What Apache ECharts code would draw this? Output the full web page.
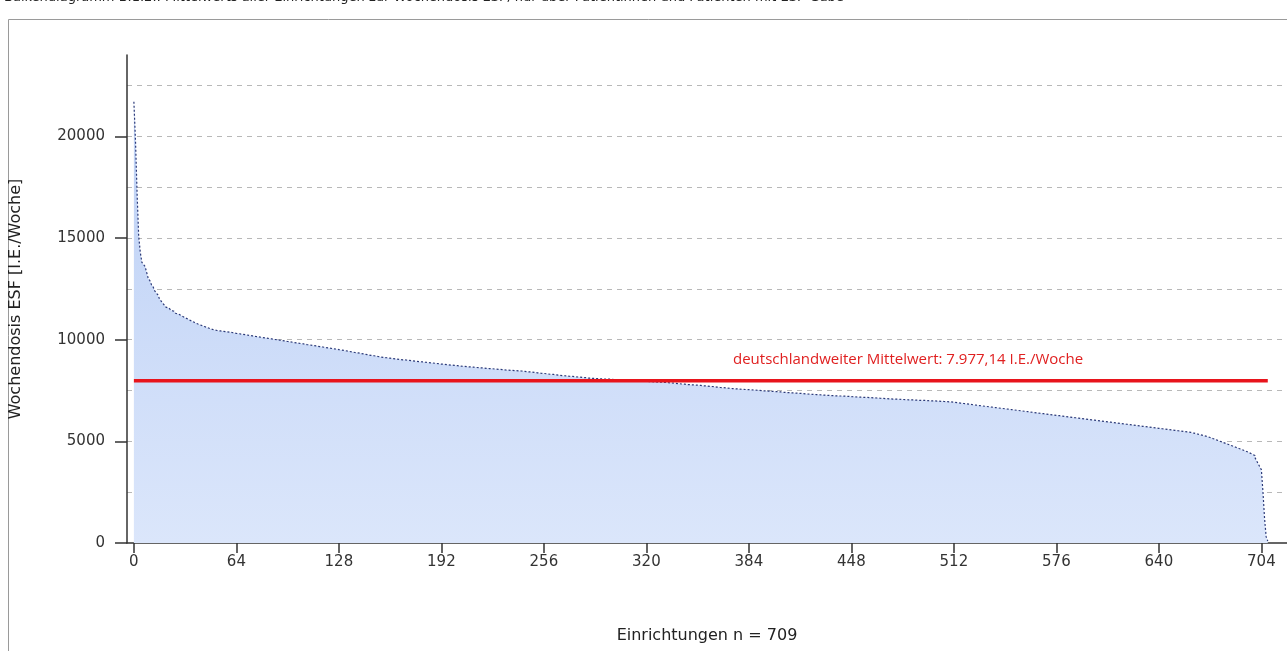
<!DOCTYPE html>
<html><head><meta charset="utf-8">
<script src="https://cdn.jsdelivr.net/npm/echarts@6/dist/echarts.min.js"></script>
<style>html,body{margin:0;padding:0;background:#fff}#c{width:1287px;height:651px}</style>
</head><body><div id="c"></div>
<script>
const titleText = 'Balkendiagramm B.1.2.: Mittelwerts aller Einrichtungen zur Wochendosis ESF, nur über Patientinnen und Patienten mit ESF-Gabe';
const yAxisName = 'Wochendosis ESF [I.E./Woche]';
const xAxisName = 'Einrichtungen n = 709';
const meanLabel = 'deutschlandweiter Mittelwert: 7.977,14 I.E./Woche';
const meanValue = 7977.14;
const xTicks = [0,64,128,192,256,320,384,448,512,576,640,704];
const yTicks = [0,5000,10000,15000,20000];
const values = [
21700,19800,17200,15100,14300,13800,13700,13600,13300,13000,
12900,12700,12600,12400,12300,12200,12000,11900,11800,11700,
11600,11550,11500,11450,11400,11350,11300,11250,11200,11160,
11120,11080,11040,11000,10960,10920,10880,10840,10800,10770,
10740,10710,10680,10650,10620,10590,10560,10530,10500,10480,
10460,10450,10440,10430,10420,10410,10400,10390,10380,10370,
10350,10340,10320,10310,10300,10290,10270,10260,10250,10240,
10220,10210,10200,10190,10170,10160,10150,10140,10120,10110,
10100,10090,10070,10060,10050,10040,10020,10010,10000,9990,
9970,9960,9950,9940,9920,9910,9900,9890,9870,9860,
9850,9840,9820,9810,9800,9790,9770,9760,9750,9740,
9720,9710,9700,9690,9670,9660,9650,9640,9620,9610,
9600,9590,9570,9560,9550,9540,9520,9510,9500,9490,
9470,9460,9440,9430,9420,9400,9390,9370,9360,9350,
9330,9320,9300,9290,9280,9260,9250,9230,9220,9210,
9190,9180,9160,9150,9140,9130,9120,9110,9100,9090,
9080,9070,9060,9050,9040,9030,9020,9010,9010,9000,
8990,8980,8970,8960,8950,8940,8930,8920,8910,8910,
8900,8890,8880,8870,8860,8860,8850,8840,8830,8820,
8810,8800,8800,8790,8780,8770,8760,8750,8740,8740,
8730,8720,8710,8700,8690,8690,8680,8670,8670,8660,
8650,8650,8640,8630,8630,8620,8610,8610,8600,8590,
8590,8580,8570,8570,8560,8550,8550,8540,8530,8530,
8520,8510,8510,8500,8490,8490,8480,8480,8470,8470,
8460,8460,8450,8440,8430,8420,8420,8410,8400,8390,
8380,8370,8360,8350,8350,8340,8330,8320,8310,8300,
8290,8290,8280,8270,8260,8250,8240,8230,8230,8220,
8210,8200,8200,8190,8180,8170,8170,8160,8150,8140,
8140,8130,8120,8110,8100,8100,8090,8090,8080,8080,
8070,8070,8070,8060,8060,8060,8060,8055,8050,8040,
8040,8030,8030,8020,8020,8010,8010,8000,8000,7990,
7990,7980,7980,7970,7970,7960,7960,7960,7955,7950,
7950,7940,7940,7930,7930,7920,7920,7910,7910,7905,
7905,7900,7890,7880,7870,7870,7860,7850,7840,7840,
7830,7820,7810,7810,7800,7790,7790,7780,7770,7770,
7760,7760,7760,7750,7740,7730,7730,7720,7710,7700,
7690,7690,7680,7670,7660,7650,7650,7640,7630,7620,
7610,7610,7600,7590,7590,7580,7570,7570,7560,7560,
7560,7550,7550,7540,7540,7530,7520,7520,7510,7510,
7500,7490,7490,7480,7480,7470,7470,7460,7450,7450,
7440,7440,7430,7430,7420,7410,7410,7400,7400,7390,
7390,7380,7370,7370,7360,7360,7350,7350,7340,7330,
7330,7320,7320,7310,7310,7300,7300,7290,7290,7280,
7280,7270,7270,7260,7260,7250,7250,7240,7240,7230,
7230,7230,7220,7220,7210,7210,7200,7200,7200,7190,
7190,7180,7180,7170,7170,7160,7160,7160,7150,7150,
7140,7140,7130,7130,7120,7120,7120,7110,7110,7100,
7100,7090,7090,7080,7080,7080,7070,7070,7060,7060,
7060,7050,7050,7040,7040,7040,7030,7030,7020,7020,
7020,7010,7010,7010,7000,7000,7000,6990,6990,6990,
6980,6980,6970,6970,6960,6960,6950,6950,6940,6940,
6930,6920,6910,6900,6890,6880,6870,6860,6850,6840,
6830,6820,6810,6800,6790,6780,6770,6760,6750,6740,
6730,6720,6710,6700,6690,6680,6670,6660,6650,6640,
6630,6620,6610,6600,6590,6580,6570,6560,6550,6540,
6530,6520,6510,6500,6490,6480,6470,6460,6450,6440,
6430,6420,6410,6400,6390,6380,6370,6360,6350,6340,
6330,6320,6310,6300,6290,6280,6270,6260,6250,6240,
6230,6220,6210,6200,6190,6180,6170,6160,6150,6140,
6130,6120,6110,6100,6090,6080,6070,6060,6050,6040,
6030,6020,6010,6000,5990,5980,5970,5960,5950,5940,
5930,5920,5910,5900,5890,5880,5870,5860,5850,5840,
5830,5820,5810,5800,5790,5780,5770,5760,5750,5740,
5730,5720,5710,5700,5690,5680,5670,5660,5650,5640,
5630,5620,5610,5600,5590,5580,5570,5560,5550,5540,
5530,5520,5510,5500,5490,5480,5470,5460,5450,5440,
5420,5400,5380,5360,5340,5320,5300,5280,5260,5240,
5220,5190,5160,5130,5100,5070,5040,5010,4980,4950,
4920,4890,4860,4830,4800,4770,4740,4710,4680,4650,
4620,4590,4560,4530,4500,4460,4420,4380,4340,4300,
4200,4050,3900,3750,3600,2500,1200,300,100
];
const FONT = 'DejaVu Sans';
const chart = echarts.init(document.getElementById('c'));
const pts = values.map((v,i)=>[i,v]);
chart.setOption({
  animation:false,
  graphic:[
    {type:'rect',shape:{x:8.5,y:19.5,width:1290,height:640},style:{fill:'none',stroke:'#9a9a9a',lineWidth:1},silent:true},
    {type:'text',left:4,top:-9,style:{text:titleText,font:'13px "DejaVu Sans"',fill:'#222'}},
    {type:'text',left:733,top:352,style:{text:meanLabel,font:'15px "Open Sans"',fill:'#e02020'}}
  ],
  grid:{left:125,right:0,top:55,bottom:108},
  xAxis:{type:'value',min:-4.3,max:720,
    name:xAxisName,nameLocation:'middle',nameGap:85,
    nameTextStyle:{fontFamily:FONT,fontSize:16,color:'#222'},
    axisLine:{lineStyle:{color:'#333',width:1.5}},
    axisTick:{customValues:xTicks,length:10,lineStyle:{color:'#333',width:1.5}},
    axisLabel:{customValues:xTicks,fontFamily:FONT,fontSize:15,color:'#333',margin:12},
    splitLine:{show:false}},
  yAxis:[
    {type:'value',min:0,max:24000,interval:2500,
     axisLine:{show:true,onZero:false,lineStyle:{color:'#333',width:1.5}},
     axisTick:{show:false},axisLabel:{show:false},
     splitLine:{show:true,showMinLine:false,showMaxLine:false,lineStyle:{color:'#b8b8b8',type:[5,5],width:1}}},
    {type:'value',min:0,max:24000,position:'left',
     name:yAxisName,nameLocation:'middle',nameGap:103,nameRotate:90,
     nameTextStyle:{fontFamily:FONT,fontSize:16,color:'#222'},
     axisLine:{show:false,onZero:false},
     axisTick:{show:true,customValues:yTicks,length:12,lineStyle:{color:'#333',width:1.5}},
     axisLabel:{customValues:yTicks,formatter:v=>String(v),fontFamily:FONT,fontSize:15,color:'#333',margin:22},
     splitLine:{show:false}}
  ],
  series:[
    {type:'line',data:pts,yAxisIndex:0,symbol:'none',step:'end',
     lineStyle:{color:'#2c3a78',width:1.2,type:[2,2]},
     areaStyle:{color:new echarts.graphic.LinearGradient(0,0,0,1,[{offset:0,color:'#bcd0f5'},{offset:1,color:'#dbe6fb'}]),opacity:1},
     z:2},
    {type:'line',data:[[0,meanValue],[708,meanValue]],yAxisIndex:0,symbol:'none',
     lineStyle:{color:'#e8141c',width:3.5},z:3}
  ]
});
</script></body></html>
